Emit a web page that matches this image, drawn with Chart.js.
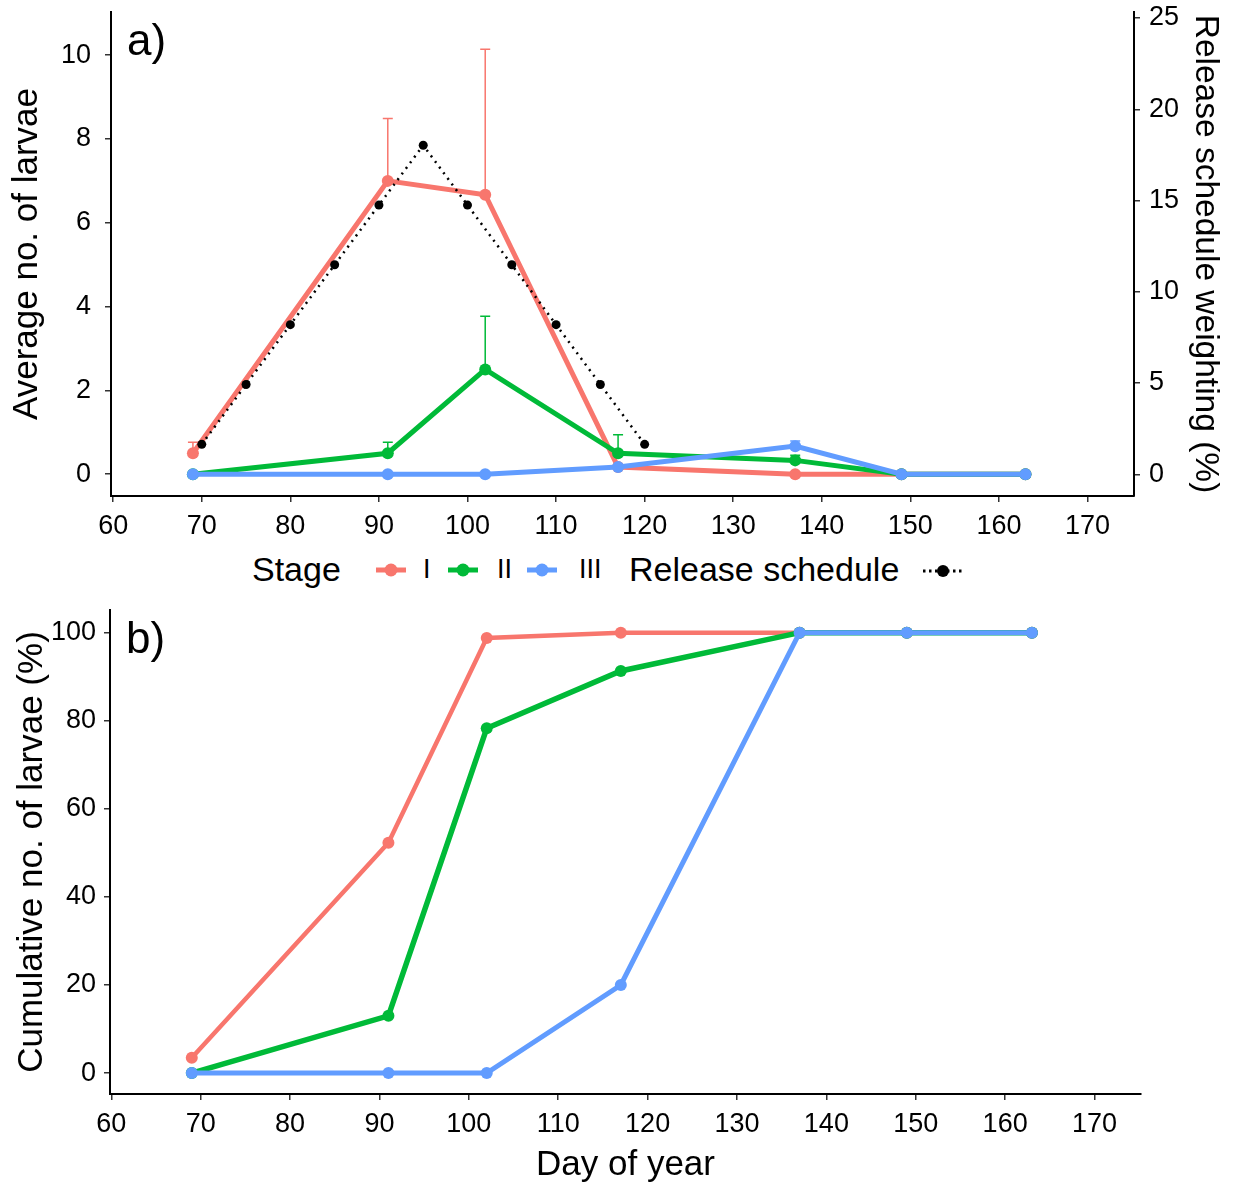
<!DOCTYPE html>
<html>
<head>
<meta charset="utf-8">
<script src="https://cdn.jsdelivr.net/npm/chart.js@4.4.1/dist/chart.umd.min.js"></script>
<style>
  html, body { margin: 0; padding: 0; background: #fff; overflow: hidden; }
  #wrap { position: relative; width: 1233px; height: 1182px; overflow: hidden;
          font-family: "Liberation Sans", Arial, sans-serif; color: #000; }
  #boxA { position: absolute; left: 0; top: 0; width: 1233px; height: 545px; }
  #boxB { position: absolute; left: 0; top: 598px; width: 1233px; height: 588px; }
  .lg { position: absolute; top: 549px; line-height: 40px; white-space: nowrap; }
  .big { font-size: 34px; }
  .small { font-size: 27px; }
  svg.key { position: absolute; top: 555px; }
</style>
</head>
<body>
<div id="wrap">
  <div id="boxA"><canvas id="chartA"></canvas></div>
  <div id="boxB"><canvas id="chartB"></canvas></div>

  <span class="lg big" style="left:252px">Stage</span>
  <svg class="key" style="left:374px" width="34" height="30"><line x1="2" y1="15" x2="32" y2="15" stroke="#F8766D" stroke-width="5"/><circle cx="17" cy="15" r="6.5" fill="#F8766D"/></svg>
  <span class="lg small" style="left:423px">I</span>
  <svg class="key" style="left:446px" width="34" height="30"><line x1="2" y1="15" x2="32" y2="15" stroke="#00BA38" stroke-width="5"/><circle cx="17" cy="15" r="6.5" fill="#00BA38"/></svg>
  <span class="lg small" style="left:497px">II</span>
  <svg class="key" style="left:525px" width="34" height="30"><line x1="2" y1="15" x2="32" y2="15" stroke="#619CFF" stroke-width="5"/><circle cx="17" cy="15" r="6.5" fill="#619CFF"/></svg>
  <span class="lg small" style="left:579px">III</span>
  <span class="lg big" style="left:629px">Release schedule</span>
  <svg class="key" style="left:921px" width="44" height="30"><line x1="2" y1="16" x2="42" y2="16" stroke="#000" stroke-width="3" stroke-dasharray="2.5 3.5"/><circle cx="22" cy="16" r="6" fill="#000"/></svg>
</div>

<script>
// day of year of each sampling
const days = [69, 91, 102, 117, 137, 149, 163];

// panel a: average no. of larvae per stage
const stageI   = [0.5, 7.0, 6.67, 0.17, 0, 0, 0];
const stageII  = [0, 0.5, 2.5, 0.5, 0.33, 0, 0];
const stageIII = [0, 0, 0, 0.17, 0.67, 0, 0];
// upper end of error bars (null = no bar)
const stageIErr   = [0.76, 8.49, 10.14, null, null, null, null];
const stageIIErr  = [null, 0.76, 3.77, 0.94, 0.45, null, null];
const stageIIIErr = [null, null, null, null, 0.79, null, null];

// release schedule weighting (%)
const releaseDays = [70, 75, 80, 85, 90, 95, 100, 105, 110, 115, 120];
const releaseWeight = [1.64, 4.92, 8.2, 11.48, 14.75, 18.03, 14.75, 11.48, 8.2, 4.92, 1.64];

// panel b: cumulative no. of larvae (%)
const cumI   = [3.5, 52.3, 98.8, 100, 100, 100, 100];
const cumII  = [0, 13.0, 78.3, 91.3, 100, 100, 100];
const cumIII = [0, 0, 0, 20, 100, 100, 100];

const xTicks = [60, 70, 80, 90, 100, 110, 120, 130, 140, 150, 160, 170];
const yTicksA = [0, 2, 4, 6, 8, 10];
const y2TicksA = [0, 5, 10, 15, 20, 25];
const yTicksB = [0, 20, 40, 60, 80, 100];

const RED = '#F8766D', GREEN = '#00BA38', BLUE = '#619CFF';
const FONT = '"Liberation Sans", Arial, sans-serif';

function pts(xs, ys) {
  return xs.map((x, i) => ({ x: x, y: ys[i] }));
}

function fixTicks(values) {
  return function (scale) {
    scale.ticks = values.map(v => ({ value: v }));
  };
}

// fixed box sizes so the plot areas line up with the reference
function fixSize(prop, size) {
  return function (scale) {
    scale[prop] = size;
    scale.paddingTop = 0; scale.paddingBottom = 0;
    scale.paddingLeft = 0; scale.paddingRight = 0;
  };
}

// upper error bars, drawn from the library's scales
const errorBars = {
  id: 'errorBars',
  beforeDatasetsDraw(chart) {
    const ctx = chart.ctx;
    chart.data.datasets.forEach(ds => {
      if (!ds.errTop) return;
      const ys = chart.scales[ds.yAxisID || 'y'];
      const xs = chart.scales.x;
      ctx.save();
      ctx.strokeStyle = ds.borderColor;
      ctx.lineWidth = 1.5;
      ds.data.forEach((p, i) => {
        const top = ds.errTop[i];
        if (top == null) return;
        const x = xs.getPixelForValue(p.x);
        const y0 = ys.getPixelForValue(p.y);
        const y1 = ys.getPixelForValue(top);
        ctx.beginPath();
        ctx.moveTo(x, y0); ctx.lineTo(x, y1);
        ctx.moveTo(x - 5, y1); ctx.lineTo(x + 5, y1);
        ctx.stroke();
      });
      ctx.restore();
    });
  }
};

// "a)" / "b)" panel tags
const panelTag = {
  id: 'panelTag',
  afterDraw(chart, args, opts) {
    const ctx = chart.ctx;
    ctx.save();
    ctx.font = '44px ' + FONT;
    ctx.fillStyle = '#000';
    ctx.textBaseline = 'middle';
    ctx.fillText(opts.text, chart.chartArea.left + 16, chart.chartArea.top + 31);
    ctx.restore();
  }
};

const tickFont = { family: FONT, size: 27 };
const titleFont = { family: FONT, size: 35 };

function axisCommon(pad) {
  return {
    border: { display: true, color: '#000', width: 2 },
    grid: { display: true, drawOnChartArea: false, drawTicks: true, tickLength: 6, color: '#333', lineWidth: 1.5 },
    ticks: { font: tickFont, color: '#000', padding: pad || 8 }
  };
}

function lineSet(label, xs, ys, color, width, order, err) {
  return {
    label: label,
    data: pts(xs, ys),
    borderColor: color,
    backgroundColor: color,
    borderWidth: width,
    pointRadius: 6,
    pointHoverRadius: 6,
    pointBorderWidth: 0,
    order: order,
    errTop: err
  };
}

Chart.defaults.animation = false;

// ---------- panel a ----------
new Chart(document.getElementById('chartA'), {
  type: 'line',
  data: {
    datasets: [
      {
        label: 'Release schedule',
        data: pts(releaseDays, releaseWeight),
        yAxisID: 'y2',
        borderColor: '#000',
        backgroundColor: '#000',
        borderWidth: 2.5,
        borderDash: [2, 5],
        pointRadius: 4.5,
        pointBorderWidth: 0,
        order: 0
      },
      lineSet('III', days, stageIII, BLUE, 5, 1, stageIIIErr),
      lineSet('II', days, stageII, GREEN, 5, 2, stageIIErr),
      lineSet('I', days, stageI, RED, 5, 3, stageIErr)
    ]
  },
  options: {
    responsive: true,
    maintainAspectRatio: false,
    layout: { padding: { top: 12, left: 0, right: 0, bottom: 0 } },
    plugins: {
      legend: { display: false },
      tooltip: { enabled: false },
      panelTag: { text: 'a)' }
    },
    scales: {
      x: Object.assign(axisCommon(), {
        type: 'linear', min: 59.75, max: 175.25,
        afterBuildTicks: fixTicks(xTicks),
        afterFit: fixSize('height', 49)
      }),
      y: Object.assign(axisCommon(14), {
        type: 'linear', position: 'left', min: -0.52, max: 11.03,
        afterBuildTicks: fixTicks(yTicksA),
        afterFit: fixSize('width', 111),
        title: { display: true, text: 'Average no. of larvae', font: titleFont, color: '#000', padding: { top: 6, bottom: 0 } }
      }),
      y2: Object.assign(axisCommon(9), {
        type: 'linear', position: 'right', min: -1.19, max: 25.33,
        afterBuildTicks: fixTicks(y2TicksA),
        afterFit: fixSize('width', 99),
        title: { display: true, text: 'Release schedule weighting (%)', font: { family: FONT, size: 33.5 }, color: '#000', padding: { top: 8, bottom: 0 } }
      })
    }
  },
  plugins: [errorBars, panelTag]
});

// ---------- panel b ----------
new Chart(document.getElementById('chartB'), {
  type: 'line',
  data: {
    datasets: [
      lineSet('III', days, cumIII, BLUE, 5, 1),
      lineSet('II', days, cumII, GREEN, 5.5, 2),
      lineSet('I', days, cumI, RED, 4.5, 3)
    ]
  },
  options: {
    responsive: true,
    maintainAspectRatio: false,
    layout: { padding: { top: 12, left: 0, right: 92, bottom: 0 } },
    plugins: {
      legend: { display: false },
      tooltip: { enabled: false },
      panelTag: { text: 'b)' }
    },
    scales: {
      x: Object.assign(axisCommon(), {
        type: 'linear', min: 59.85, max: 175.2,
        afterBuildTicks: fixTicks(xTicks),
        afterFit: fixSize('height', 92),
        title: { display: true, text: 'Day of year', font: titleFont, color: '#000', padding: { top: 0, bottom: 0 } }
      }),
      y: Object.assign(axisCommon(), {
        type: 'linear', position: 'left', min: -4.75, max: 105.15,
        afterBuildTicks: fixTicks(yTicksB),
        afterFit: fixSize('width', 110),
        title: { display: true, text: 'Cumulative no. of larvae (%)', font: titleFont, color: '#000', padding: { top: 11, bottom: 0 } }
      })
    }
  },
  plugins: [errorBars, panelTag]
});
</script>
</body>
</html>
